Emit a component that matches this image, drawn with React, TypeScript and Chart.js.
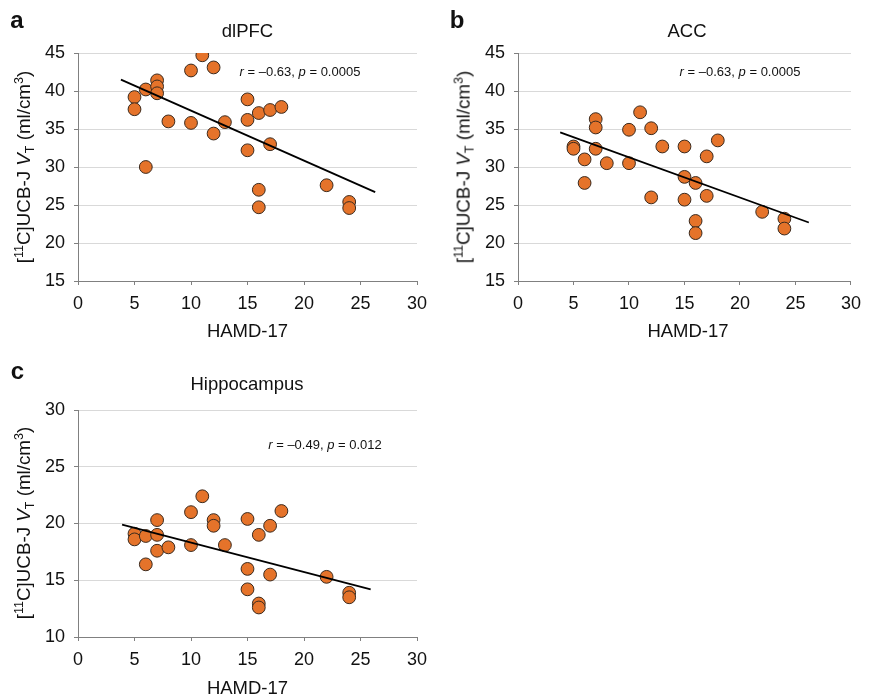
import React, { useEffect, useRef } from "react";
import { Chart, registerables } from "chart.js";

Chart.register(...registerables);

const FONT = '"Liberation Sans", Arial, Helvetica, sans-serif';
const ORANGE = "#E5732A";
const EDGE = "#3a2a1e";
const AXIS = "#808080";
const GRID = "#d9d9d9";

// HAMD-17 scores (x values, shared by all three panels)
const hamd = [5, 5, 6, 6, 7, 7, 7, 8, 10, 10, 11, 12, 12, 13, 15, 15, 15, 16, 16, 16, 17, 17, 18, 22, 24, 24];

// [11C]UCB-J VT values
const dlpfcVT = [39.2, 37.6, 40.2, 30.0, 41.4, 40.6, 39.7, 36.0, 42.7, 35.8, 44.7, 43.1, 34.4, 35.9, 38.9, 36.2, 32.2, 37.1, 27.0, 24.7, 37.5, 33.0, 37.9, 27.6, 25.4, 24.6];
const accVT = [32.7, 32.4, 31.0, 27.9, 36.3, 35.2, 32.4, 30.5, 34.9, 30.5, 37.2, 35.1, 26.0, 32.7, 32.7, 28.7, 25.7, 27.9, 22.9, 21.3, 31.4, 26.2, 33.5, 24.1, 23.2, 21.9];
const hippoVT = [19.1, 18.6, 18.9, 16.4, 20.3, 19.0, 17.6, 17.9, 21.0, 18.1, 22.4, 20.3, 19.8, 18.1, 20.4, 16.0, 14.2, 19.0, 12.95, 12.6, 19.8, 15.5, 21.1, 15.3, 13.9, 13.5];

// Trend line end points
const trendXA = [3.8, 26.3];
const trendYA = [41.5, 26.7];
const trendXB = [3.8, 26.2];
const trendYB = [34.55, 22.7];
const trendXC = [3.9, 25.9];
const trendYC = [19.9, 14.2];

// Axis ranges
const xRange = [0, 30];
const yRangeAB = [15, 45];
const yRangeC = [10, 30];
const tickStep = 5;

type PanelProps = {
  left: number;
  top: number;
  width: number;
  height: number;
  pad: { left: number; right: number; top: number; bottom: number };
  ys: number[];
  trendX: number[];
  trendY: number[];
  yRange: number[];
};

function Panel({ left, top, width, height, pad, ys, trendX, trendY, yRange }: PanelProps) {
  const ref = useRef<HTMLCanvasElement>(null);
  useEffect(() => {
    const chart = new Chart(ref.current as HTMLCanvasElement, {
      type: "scatter",
      data: {
        datasets: [
          {
            type: "line",
            data: trendX.map((x, i) => ({ x, y: trendY[i] })),
            borderColor: "#000",
            borderWidth: 1.8,
            pointRadius: 0,
            fill: false,
            order: 0,
          } as any,
          {
            type: "scatter",
            data: hamd.map((x, i) => ({ x, y: ys[i] })),
            backgroundColor: ORANGE,
            borderColor: EDGE,
            borderWidth: 1,
            pointRadius: 6.4,
            order: 1,
          } as any,
        ],
      },
      options: {
        responsive: false,
        animation: false,
        layout: { padding: pad },
        plugins: {
          legend: { display: false },
          tooltip: { enabled: false },
          title: { display: false },
        },
        scales: {
          x: {
            type: "linear",
            min: xRange[0],
            max: xRange[1],
            ticks: {
              stepSize: tickStep,
              font: { family: FONT, size: 18 },
              color: "#111",
              padding: 8,
              maxRotation: 0,
            },
            grid: {
              drawOnChartArea: false,
              drawTicks: true,
              tickLength: 4,
              tickColor: AXIS,
            },
            border: { color: AXIS, width: 1 },
            afterFit: (s: any) => {
              s.height = 40;
            },
          },
          y: {
            type: "linear",
            min: yRange[0],
            max: yRange[1],
            ticks: {
              stepSize: tickStep,
              font: { family: FONT, size: 18 },
              color: "#111",
              padding: 9,
            },
            grid: {
              color: GRID,
              tickColor: AXIS,
              tickLength: 4,
              lineWidth: 1,
            },
            border: { color: AXIS, width: 1 },
            afterFit: (s: any) => {
              s.width = 78;
            },
          },
        },
      } as any,
    });
    return () => chart.destroy();
  }, []);
  return (
    <canvas
      ref={ref}
      width={width}
      height={height}
      style={{ position: "absolute", left, top, width, height }}
    />
  );
}

function Txt({
  x,
  y,
  size,
  bold,
  rotate,
  children,
}: {
  x: number;
  y: number;
  size: number;
  bold?: boolean;
  rotate?: boolean;
  children: React.ReactNode;
}) {
  return (
    <div
      style={{
        position: "absolute",
        left: x,
        top: y,
        transform: `translate(-50%, -50%)${rotate ? " rotate(-90deg)" : ""}`,
        fontFamily: FONT,
        fontSize: size,
        fontWeight: bold ? 700 : 400,
        lineHeight: 1,
        whiteSpace: "nowrap",
        color: "#111",
      }}
    >
      {children}
    </div>
  );
}

const Sup = ({ children }: { children: React.ReactNode }) => (
  <span style={{ fontSize: 12.5, position: "relative", top: -7.5 }}>{children}</span>
);
const Sub = ({ children }: { children: React.ReactNode }) => (
  <span style={{ fontSize: 12.5, position: "relative", top: 4 }}>{children}</span>
);

const YTitle = () => (
  <>
    [<Sup>11</Sup>C]UCB-J <i>V</i>
    <Sub>T</Sub> (ml/cm<Sup>3</Sup>)
  </>
);

const Stat = ({ r, p }: { r: string; p: string }) => (
  <>
    <i>r</i> = {r}, <i>p</i> = {p}
  </>
);

export default function App() {
  return (
    <div
      style={{
        position: "absolute",
        left: 0,
        top: 0,
        width: 869,
        height: 695,
        overflow: "hidden",
        background: "#fff",
      }}
    >
      <Panel
        left={0}
        top={0}
        width={440}
        height={345}
        pad={{ left: 0, right: 23, top: 53, bottom: 24 }}
        ys={dlpfcVT}
        trendX={trendXA}
        trendY={trendYA}
        yRange={yRangeAB}
      />
      <Panel
        left={440}
        top={0}
        width={429}
        height={345}
        pad={{ left: 0, right: 13, top: 53, bottom: 24 }}
        ys={accVT}
        trendX={trendXB}
        trendY={trendYB}
        yRange={yRangeAB}
      />
      <Panel
        left={0}
        top={345}
        width={440}
        height={350}
        pad={{ left: 0, right: 23, top: 65, bottom: 18 }}
        ys={hippoVT}
        trendX={trendXC}
        trendY={trendYC}
        yRange={yRangeC}
      />

      <Txt x={17} y={20} size={24} bold>a</Txt>
      <Txt x={457} y={20} size={24} bold>b</Txt>
      <Txt x={17.5} y={371} size={24} bold>c</Txt>

      <Txt x={247.5} y={31} size={18.5}>dlPFC</Txt>
      <Txt x={687} y={31} size={18.5}>ACC</Txt>
      <Txt x={247} y={383.5} size={18.5}>Hippocampus</Txt>

      <Txt x={300} y={71} size={13}><Stat r="–0.63" p="0.0005" /></Txt>
      <Txt x={740} y={71} size={13}><Stat r="–0.63" p="0.0005" /></Txt>
      <Txt x={325} y={444} size={13}><Stat r="–0.49" p="0.012" /></Txt>

      <Txt x={247.5} y={331} size={18.5}>HAMD-17</Txt>
      <Txt x={688} y={331} size={18.5}>HAMD-17</Txt>
      <Txt x={247.5} y={688} size={18.5}>HAMD-17</Txt>

      <Txt x={24} y={167} size={18.8} rotate><YTitle /></Txt>
      <Txt x={464} y={167} size={18.8} rotate><YTitle /></Txt>
      <Txt x={24} y={523} size={18.8} rotate><YTitle /></Txt>
    </div>
  );
}
